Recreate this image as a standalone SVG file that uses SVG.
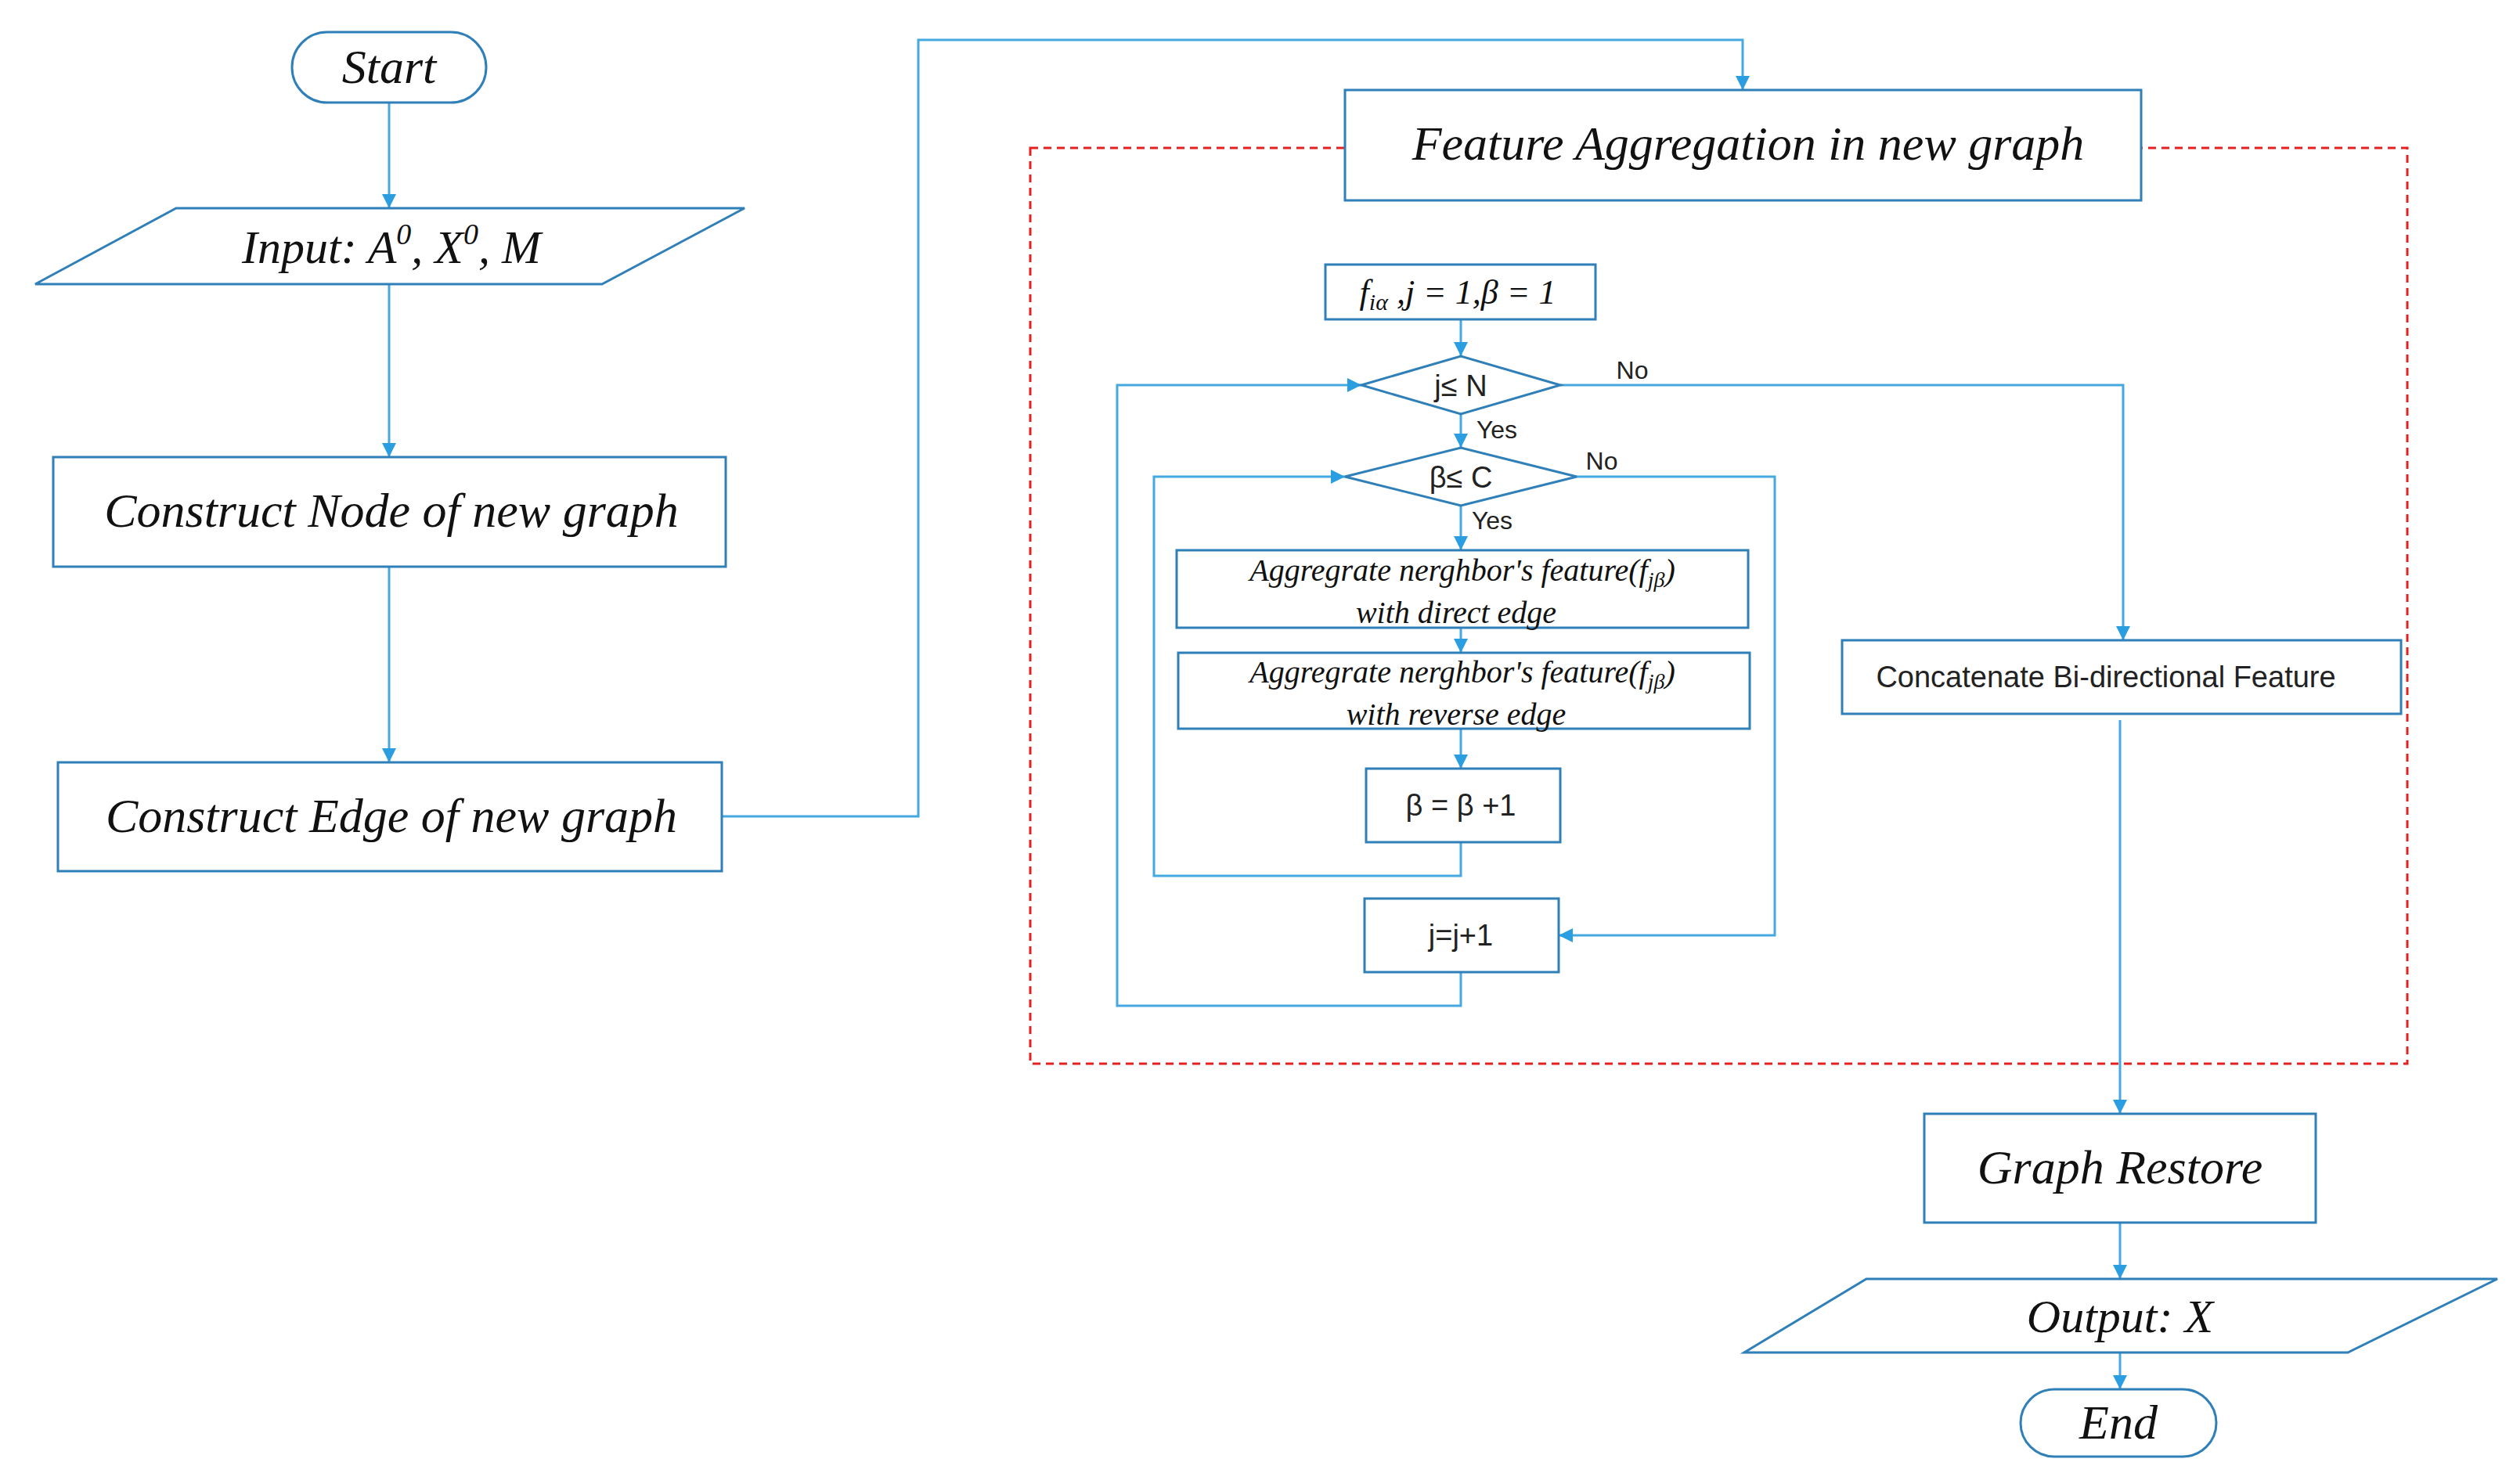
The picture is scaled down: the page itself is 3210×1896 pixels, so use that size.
<svg xmlns="http://www.w3.org/2000/svg" width="3210" height="1896" viewBox="0 0 3210 1896">
<style>
.b{fill:#fff;stroke:#2f7fb8;stroke-width:3}
.c{fill:none;stroke:#45a8e0;stroke-width:3}
.t{font-family:"Liberation Serif",serif;font-style:italic;fill:#111;text-anchor:middle}
.s{font-family:"Liberation Sans",sans-serif;fill:#222;text-anchor:middle}
</style>
<defs><marker id="a" viewBox="0 0 10 10" refX="10" refY="5" markerWidth="6" markerHeight="6" orient="auto" markerUnits="userSpaceOnUse"><path d="M0,0L10,5L0,10z" fill="#2a9ee0"/></marker>
<marker id="m" viewBox="0 0 10 10" refX="10" refY="5" markerWidth="18" markerHeight="18" orient="auto" markerUnits="userSpaceOnUse"><path d="M0,0L10,5L0,10z" fill="#2a9ee0"/></marker></defs>
<rect x="1316" y="189" width="1759" height="1170" fill="none" stroke="#e52020" stroke-width="3" stroke-dasharray="10,7"/>
<g id="connectors">
<path class="c" marker-end="url(#m)" d="M497,131V266"/>
<path class="c" marker-end="url(#m)" d="M497,363V584"/>
<path class="c" marker-end="url(#m)" d="M497,724V974"/>
<path class="c" marker-end="url(#m)" d="M922,1043H1173V51H2226V115"/>
<path class="c" marker-end="url(#m)" d="M1866,408V455"/>
<path class="c" marker-end="url(#m)" d="M1866,529V572"/>
<path class="c" marker-end="url(#m)" d="M1866,646V703"/>
<path class="c" marker-end="url(#m)" d="M1866,802V834"/>
<path class="c" marker-end="url(#m)" d="M1866,931V982"/>
<path class="c" marker-end="url(#m)" d="M1866,1076V1119H1474V609H1718"/>
<path class="c" marker-end="url(#m)" d="M1866,1242V1285H1427V492H1739"/>
<path class="c" marker-end="url(#m)" d="M2014,609H2267V1195H1991"/>
<path class="c" marker-end="url(#m)" d="M1993,492H2712V818"/>
<path class="c" marker-end="url(#m)" d="M2708,920V1423"/>
<path class="c" marker-end="url(#m)" d="M2708,1562V1634"/>
<path class="c" marker-end="url(#m)" d="M2708,1728V1775"/>
<text class="s" x="2085" y="484" font-size="32">No</text>
<text class="s" x="1912" y="560" font-size="32">Yes</text>
<text class="s" x="2046" y="600" font-size="32">No</text>
<text class="s" x="1906" y="676" font-size="32">Yes</text>
</g>
<g id="start"><rect class="b" x="373" y="41" width="248" height="90" rx="45"/><text class="t" x="497" y="106" font-size="62">Start</text></g>
<g id="input"><path class="b" d="M225,266H951L769,363H45z"/><text class="t" x="500" y="336" font-size="60">Input:  A<tspan font-size="38" dy="-24">0</tspan><tspan dy="24">, X</tspan><tspan font-size="38" dy="-24">0</tspan><tspan dy="24">, M</tspan></text></g>
<g id="node"><rect class="b" x="68" y="584" width="859" height="140"/><text class="t" x="500" y="673" font-size="62">Construct Node of  new graph</text></g>
<g id="edge"><rect class="b" x="74" y="974" width="848" height="139"/><text class="t" x="500" y="1063" font-size="62">Construct Edge of  new graph</text></g>
<g id="feature"><rect class="b" x="1718" y="115" width="1017" height="141"/><text class="t" x="2233" y="204" font-size="62">Feature Aggregation in new graph</text></g>
<g id="init"><rect class="b" x="1693" y="338" width="345" height="70"/><text class="t" x="1862" y="388" font-size="44">f<tspan font-size="30" dy="8">iα</tspan><tspan dy="-8"> ,j = 1,β = 1</tspan></text></g>
<g id="d1"><path class="b" d="M1739,492L1866,455L1993,492L1866,529z"/><text class="s" x="1866" y="506" font-size="38">j≤ N</text></g>
<g id="d2"><path class="b" d="M1718,609L1866,572L2014,609L1866,646z"/><text class="s" x="1866" y="623" font-size="38">β≤ C</text></g>
<g id="agg1"><rect class="b" x="1503" y="703" width="730" height="99"/><text class="t" x="1868" y="742" font-size="40">Aggregrate nerghbor's feature(f<tspan font-size="28" dy="8">jβ</tspan><tspan dy="-8">)</tspan></text><text class="t" x="1860" y="796" font-size="40">with direct  edge</text></g>
<g id="agg2"><rect class="b" x="1505" y="834" width="730" height="97"/><text class="t" x="1868" y="872" font-size="40">Aggregrate nerghbor's feature(f<tspan font-size="28" dy="8">jβ</tspan><tspan dy="-8">)</tspan></text><text class="t" x="1860" y="926" font-size="40">with reverse  edge</text></g>
<g id="binc"><rect class="b" x="1745" y="982" width="248" height="94"/><text class="s" x="1866" y="1042" font-size="38">β = β +1</text></g>
<g id="jinc"><rect class="b" x="1743" y="1148" width="248" height="94"/><text class="s" x="1866" y="1208" font-size="38">j=j+1</text></g>
<g id="concat"><rect class="b" x="2353" y="818" width="714" height="94"/><text class="s" x="2690" y="878" font-size="38">Concatenate Bi-directional Feature</text></g>
<g id="restore"><rect class="b" x="2458" y="1423" width="500" height="139"/><text class="t" x="2708" y="1512" font-size="62">Graph Restore</text></g>
<g id="output"><path class="b" d="M2384,1634H3190L2999,1728H2228z"/><text class="t" x="2708" y="1702" font-size="60">Output:  X</text></g>
<g id="end"><rect class="b" x="2581" y="1775" width="250" height="86" rx="43"/><text class="t" x="2706" y="1838" font-size="62">End</text></g>
</svg>
